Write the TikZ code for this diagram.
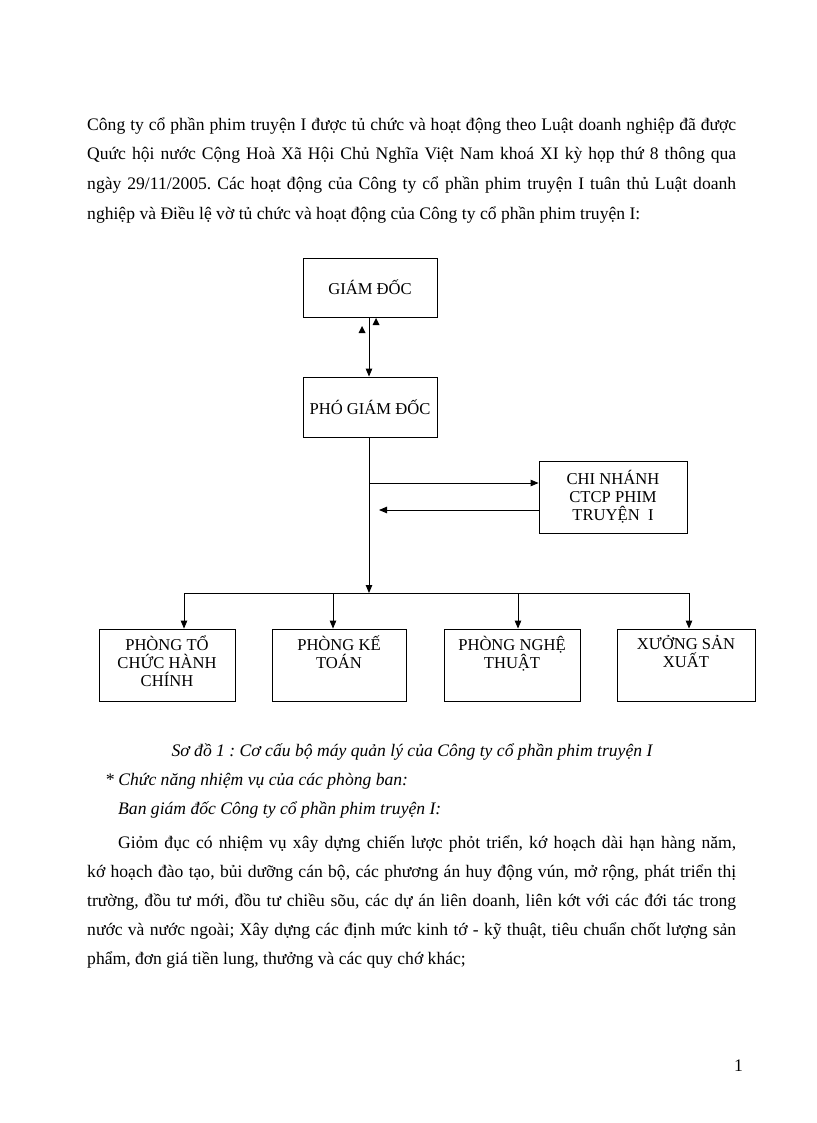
\documentclass[tikz,border=0pt]{standalone}
\usepackage{fontspec}
\setmainfont{Liberation Serif}
\usetikzlibrary{arrows.meta}
\frenchspacing
\begin{document}
\begin{tikzpicture}[x=1pt,y=-1pt,
  para/.style={anchor=base west,inner sep=0pt,font=\fontsize{17.6}{20}\selectfont},
  box/.style={draw,line width=0.9pt,inner sep=0pt,minimum width=134pt,minimum height=60pt},
  btext/.style={inner sep=0pt,align=center,font=\fontsize{16.6}{18}\selectfont},
  arr/.style={line width=0.9pt,-{Triangle[length=8pt,width=6.5pt]}},
  ln/.style={line width=0.9pt}]
\useasboundingbox[fill=white] (0,0) rectangle (816,1123);
% paragraph above
\node[para] (p1) at (87,131) {\makebox[649pt][s]{Công ty cổ phần phim truyện I được tủ chức và hoạt động theo Luật doanh nghiệp đã được}};
\node[para] (p2) at (87,160) {\makebox[649pt][s]{Quức hội nước Cộng Hoà Xã Hội Chủ Nghĩa Việt Nam khoá XI kỳ họp thứ 8 thông qua}};
\node[para] (p3) at (87,190) {\makebox[649pt][s]{ngày 29/11/2005. Các hoạt động của Công ty cổ phần phim truyện I tuân thủ Luật doanh}};
\node[para] (p4) at (87,219) {nghiệp và Điều lệ vờ tủ chức và hoạt động của Công ty cổ phần phim truyện I:};
% diagram
\node[box,minimum width=134pt,minimum height=59pt] (gd) at (370,287.5) {};
\node[btext] at (gd) {GIÁM ĐỐC};
\node[box,minimum width=134pt,minimum height=60pt] (pgd) at (370,407) {};
\node[btext] at (pgd) {PHÓ GIÁM ĐỐC};
\node[box,minimum width=148pt,minimum height=72pt] (cn) at (613,497) {};
\node[btext] at (cn) {CHI NHÁNH\\CTCP PHIM\\TRUYỆN\ \ I};
\node[box,minimum width=136pt,minimum height=72pt] (b1) at (167,665) {};
\node[box,minimum width=134pt,minimum height=72pt] (b2) at (339,665) {};
\node[box,minimum width=136pt,minimum height=72pt] (b3) at (512,665) {};
\node[box,minimum width=138pt,minimum height=72pt] (b4) at (686,665) {};
\node[btext,anchor=north] (t1) at ([yshift=-7pt]b1.north) {PHÒNG TỔ\\CHỨC HÀNH\\CHÍNH};
\node[btext,anchor=north] (t2) at ([yshift=-7pt]b2.north) {PHÒNG KẾ\\TOÁN};
\node[btext,anchor=north] (t3) at ([yshift=-7pt]b3.north) {PHÒNG NGHỆ\\THUẬT};
\node[btext,anchor=north] (t4) at ([yshift=-7pt]b4.north) {XƯỞNG SẢN\\XUẤT};
% connectors
\draw[arr] (gd.south -| 369,0) -- (pgd.north -| 369,0);
\fill (376,318) -- (379.5,325) -- (372.5,325) -- cycle;
\fill (362,326) -- (365.5,333) -- (358.5,333) -- cycle;
\coordinate (bus) at (369,593);
\coordinate (busL) at (184,593);
\coordinate (busR) at (689,593);
\draw[arr] (pgd.south -| 369,0) -- (bus);
\draw[arr] (369,483) -- (cn.west |- 0,483);
\coordinate (ret) at (379,510);
\draw[arr] (cn.west |- 0,510) -- (ret);
\draw[ln] (busL) -- (busR);
\draw[arr] (busL) -- (b1.north -| busL);
\draw[arr] (333,593) -- (b2.north -| 333,0);
\draw[arr] (518,593) -- (b3.north -| 518,0);
\draw[arr] (busR) -- (b4.north -| busR);
% caption and text below
\node[anchor=base,inner sep=0pt,font=\fontsize{17.6}{20}\selectfont\itshape] (cap) at (412,756) {Sơ đồ 1 : Cơ cấu bộ máy quản lý của Công ty cổ phần phim truyện I};
\node[para,font=\fontsize{17.6}{20}\selectfont\itshape] (h1) at (105,785) {* Chức năng nhiệm vụ của các phòng ban:};
\node[para,font=\fontsize{17.6}{20}\selectfont\itshape] (h2) at (118,814) {Ban giám đốc Công ty cổ phần phim truyện I:};
\node[para] (q1) at (118,848) {\makebox[618pt][s]{Giỏm đục có nhiệm vụ xây dựng chiến lược phỏt triển, kớ hoạch dài hạn hàng năm,}};
\node[para] (q2) at (87,877) {\makebox[649pt][s]{kớ hoạch đào tạo, bủi dưỡng cán bộ, các phương án huy động vún, mở rộng, phát triển thị}};
\node[para] (q3) at (87,906) {\makebox[649pt][s]{trường, đồu tư mới, đồu tư chiều sõu, các dự án liên doanh, liên kớt với các đới tác trong}};
\node[para] (q4) at (87,935) {\makebox[649pt][s]{nước và nước ngoài; Xây dựng các định mức kinh tớ - kỹ thuật, tiêu chuẩn chốt lượng sản}};
\node[para] (q5) at (87,964) {phẩm, đơn giá tiền lung, thưởng và các quy chớ khác;};
\node[para] (pg) at (734,1071) {1};
\end{tikzpicture}
\end{document}
